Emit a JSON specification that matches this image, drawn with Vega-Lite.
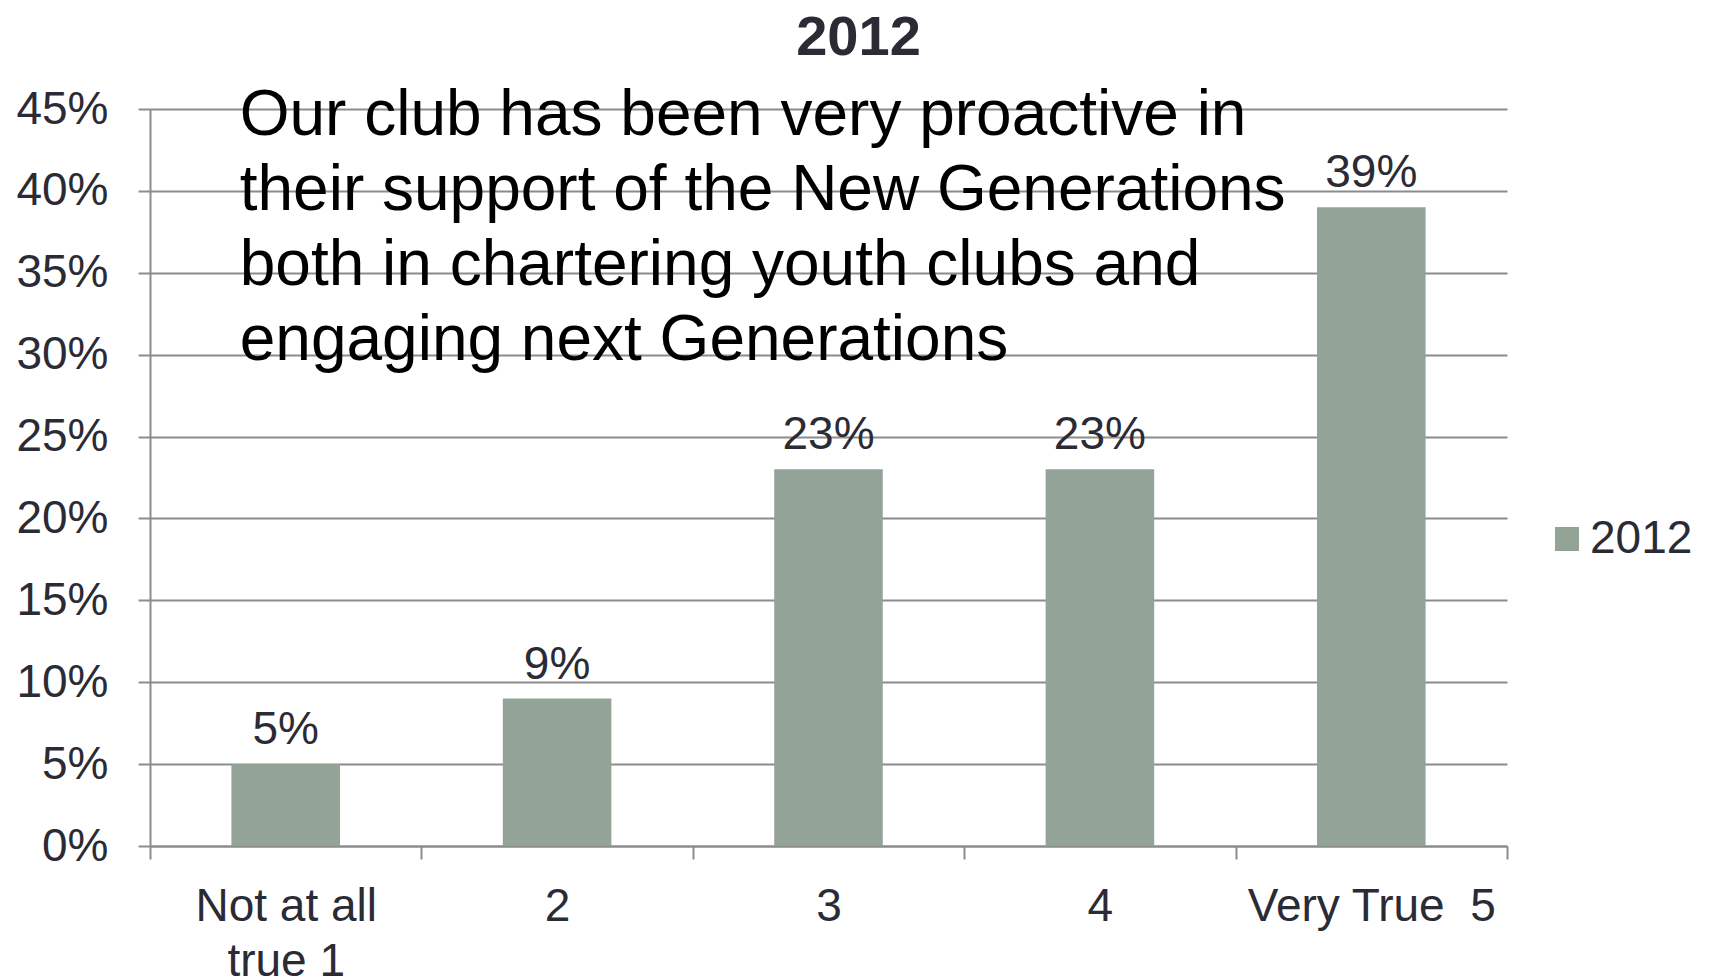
{
  "$schema": "https://vega.github.io/schema/vega-lite/v6.json",
  "autosize": "none",
  "width": 1357,
  "height": 737,
  "padding": {"left": 150, "top": 109, "right": 204, "bottom": 133},
  "background": "white",
  "config": {
    "font": "Liberation Sans",
    "view": {"stroke": null}
  },
  "title": {
    "text": "2012",
    "fontSize": 56,
    "fontWeight": "bold",
    "color": "#2b2b36",
    "anchor": "middle",
    "dx": 30,
    "dy": 49,
    "baseline": "alphabetic",
    "offset": 22
  },
  "datasets": {
    "bars": [
      {"category": "Not at all true 1", "value": 0.05, "series": "2012"},
      {"category": "2", "value": 0.09, "series": "2012"},
      {"category": "3", "value": 0.23, "series": "2012"},
      {"category": "4", "value": 0.23, "series": "2012"},
      {"category": "Very True\u00a0 5", "value": 0.39, "series": "2012"}
    ],
    "note": [
      {"text": ["Our club has been very proactive in", "their support of the New Generations", "both in chartering youth clubs and", "engaging next Generations"]}
    ]
  },
  "layer": [
    {
      "data": {"name": "bars"},
      "mark": {"type": "bar", "width": {"band": 0.4}},
      "encoding": {
        "x": {
          "field": "category",
          "type": "nominal",
          "sort": null,
          "scale": {"paddingInner": 0, "paddingOuter": 0},
          "axis": {
            "title": null,
            "labelAngle": 0,
            "labelFontSize": 46,
            "labelColor": "#2b2b36",
            "labelLineHeight": 55,
            "labelBaseline": "top",
            "labelPadding": 25,
            "labelLimit": 0,
            "labelExpr": "datum.label == 'Not at all true 1' ? ['Not at all', 'true 1'] : datum.label",
            "tickBand": "extent",
            "tickSize": 13,
            "tickColor": "#8c8c8c",
            "tickWidth": 2,
            "domainColor": "#8c8c8c",
            "domainWidth": 2,
            "grid": false
          }
        },
        "y": {
          "field": "value",
          "type": "quantitative",
          "scale": {"domain": [0, 0.45], "nice": false},
          "axis": {
            "title": null,
            "values": [0, 0.05, 0.1, 0.15, 0.2, 0.25, 0.3, 0.35, 0.4, 0.45],
            "format": ".0%",
            "labelFontSize": 46,
            "labelColor": "#2b2b36",
            "labelPadding": 30,
            "tickSize": 12,
            "tickColor": "#8c8c8c",
            "tickWidth": 2,
            "domainColor": "#8c8c8c",
            "domainWidth": 2,
            "grid": true,
            "gridColor": "#8c8c8c",
            "gridWidth": 2
          }
        },
        "color": {
          "field": "series",
          "type": "nominal",
          "scale": {"range": ["#93a398"]},
          "legend": {
            "title": null,
            "orient": "none",
            "legendX": 1394,
            "legendY": 407,
            "padding": 0,
            "symbolType": "square",
            "symbolSize": 576,
            "symbolStrokeWidth": 0,
            "labelFontSize": 46,
            "labelColor": "#2b2b36",
            "labelOffset": 0
          }
        }
      }
    },
    {
      "data": {"name": "bars"},
      "mark": {"type": "text", "fontSize": 46, "color": "#2b2b36", "baseline": "alphabetic", "dy": -20},
      "encoding": {
        "x": {"field": "category", "type": "nominal", "sort": null},
        "y": {"field": "value", "type": "quantitative"},
        "text": {"field": "value", "type": "quantitative", "format": ".0%"}
      }
    },
    {
      "data": {"name": "note"},
      "mark": {"type": "text", "fontSize": 64, "color": "#000000", "align": "left", "baseline": "alphabetic", "lineHeight": 75, "dx": -46},
      "encoding": {
        "x": {"datum": "Not at all true 1", "type": "nominal"},
        "y": {"datum": 0.4342, "type": "quantitative"},
        "text": {"field": "text"}
      }
    }
  ]
}
